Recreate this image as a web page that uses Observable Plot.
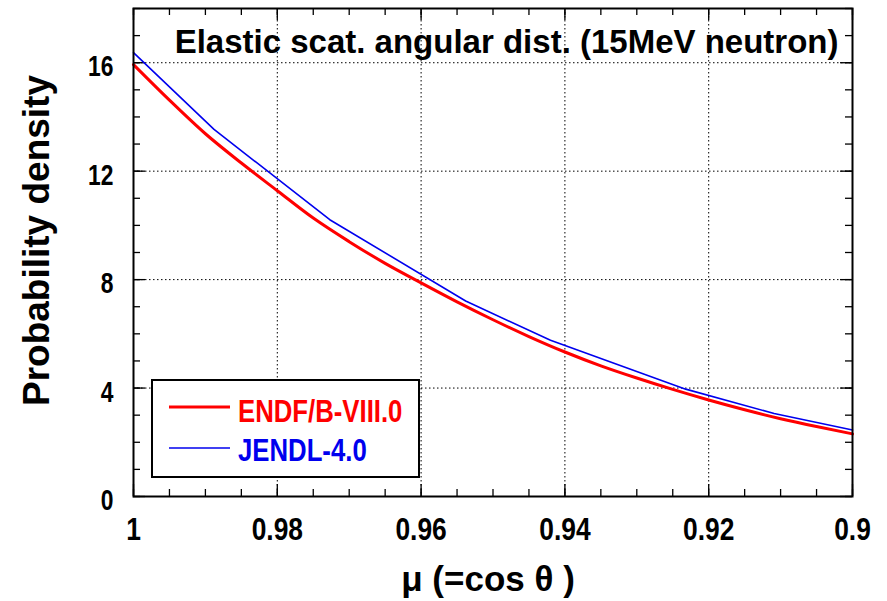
<!DOCTYPE html>
<html>
<head>
<meta charset="utf-8">
<script src="https://cdn.jsdelivr.net/npm/d3@7"></script>
<script src="https://cdn.jsdelivr.net/npm/@observablehq/plot@0.6"></script>
<style>
  html, body { margin: 0; padding: 0; background: #fff; }
  #wrap { position: relative; width: 887px; height: 601px; }
  #legend { position: absolute; left: 0; top: 0; }
</style>
</head>
<body>
<div id="wrap"></div>
<script>
// ---- data ----
const endfMu  = [1.0, 0.995, 0.99, 0.985, 0.98, 0.975, 0.97, 0.965, 0.96, 0.955, 0.95, 0.945, 0.94, 0.935, 0.93, 0.925, 0.92, 0.915, 0.91, 0.905, 0.90];
const endfVal = [15.93, 14.62, 13.38, 12.3, 11.28, 10.27, 9.4, 8.6, 7.88, 7.18, 6.52, 5.9, 5.33, 4.82, 4.37, 3.95, 3.56, 3.2, 2.87, 2.58, 2.31];
const jendlMu  = [1.0, 0.9888, 0.9727, 0.9538, 0.942, 0.9232, 0.9109, 0.90];
const jendlVal = [16.37, 13.54, 10.21, 7.21, 5.76, 3.96, 3.06, 2.45];

const xMajor = [1, 0.98, 0.96, 0.94, 0.92, 0.9];
const xTickLabels = ["1", "0.98", "0.96", "0.94", "0.92", "0.9"];
const yMajor = [0, 4, 8, 12, 16];
const yTickLabels = ["0", "4", "8", "12", "16"];
const seriesNames = ["ENDF/B-VIII.0", "JENDL-4.0"];
const seriesColors = ["#ff0000", "#0000ee"];
const titleText = "Elastic scat. angular dist. (15MeV neutron)";
const xLabel = "\u03bc (=cos \u03b8 )";
const yLabel = "Probability density";

// ---- layout ----
const W = 887, H = 601;
const mL = 133, mR = 35, mT = 8, mB = 105;
const pw = W - mL - mR, ph = H - mT - mB;
const xMinor = d3.range(0, 21).map(i => +(0.9 + i * 0.005).toFixed(3));
const yMinor = d3.range(0, 19);

const endf = endfMu.map((m, i) => ({mu: m, v: endfVal[i]}));
const jendl = jendlMu.map((m, i) => ({mu: m, v: jendlVal[i]}));

const font = "'Liberation Sans', Arial, Helvetica, sans-serif";

const chart = Plot.plot({
  width: W, height: H,
  marginLeft: mL, marginRight: mR, marginTop: mT, marginBottom: mB,
  style: {background: "white", color: "black", overflow: "visible"},
  x: {domain: [1, 0.9], axis: null},
  y: {domain: [0, 18], axis: null},
  marks: [
    Plot.gridX(xMajor, {stroke: "black", strokeOpacity: 1, strokeWidth: 1, strokeDasharray: "1.5,2.5"}),
    Plot.gridY(yMajor, {stroke: "black", strokeOpacity: 1, strokeWidth: 1, strokeDasharray: "1.5,2.5"}),
    // inward ticks: bottom/top
    Plot.ruleX(xMinor, {insetTop: ph - 7, stroke: "black", strokeWidth: 1.3}),
    Plot.ruleX(xMinor, {insetBottom: ph - 7, stroke: "black", strokeWidth: 1.3}),
    Plot.ruleX(xMajor, {insetTop: ph - 12, stroke: "black", strokeWidth: 1.3}),
    Plot.ruleX(xMajor, {insetBottom: ph - 12, stroke: "black", strokeWidth: 1.3}),
    // inward ticks: left/right
    Plot.ruleY(yMinor, {insetRight: pw - 7, stroke: "black", strokeWidth: 1.3}),
    Plot.ruleY(yMinor, {insetLeft: pw - 7, stroke: "black", strokeWidth: 1.3}),
    Plot.ruleY(yMajor, {insetRight: pw - 12, stroke: "black", strokeWidth: 1.3}),
    Plot.ruleY(yMajor, {insetLeft: pw - 12, stroke: "black", strokeWidth: 1.3}),
    Plot.line(jendl, {x: "mu", y: "v", stroke: seriesColors[1], strokeWidth: 1.6}),
    Plot.line(endf, {x: "mu", y: "v", stroke: seriesColors[0], strokeWidth: 3, curve: "monotone-x"}),
    Plot.frame({stroke: "black", strokeWidth: 2}),
    Plot.axisX(xMajor, {tickSize: 0, tickPadding: 21, fontSize: 31, fontWeight: "bold", fontFamily: font,
      tickFormat: d => xTickLabels[xMajor.indexOf(d)], label: null}),
    Plot.axisY(yMajor, {tickSize: 0, tickPadding: 20, fontSize: 30, fontWeight: "bold", fontFamily: font, dy: 4,
      tickFormat: d => yTickLabels[yMajor.indexOf(d)], label: null}),
    Plot.text([titleText], {frameAnchor: "top-right", textAnchor: "end", lineAnchor: "top", dx: -14, dy: 21,
      fontSize: 33, fontWeight: "bold", fontFamily: font, fill: "black"}),
    Plot.text([yLabel], {frameAnchor: "left", rotate: -90, textAnchor: "middle", lineAnchor: "middle", dx: -96, dy: -12,
      fontSize: 37, fontWeight: "bold", fontFamily: font, fill: "black"}),
    Plot.text([xLabel], {frameAnchor: "bottom", textAnchor: "middle", lineAnchor: "middle", dx: -5, dy: 83,
      fontSize: 35, fontWeight: "bold", fontFamily: font, fill: "black"})
  ]
});

const wrap = document.getElementById("wrap");
wrap.appendChild(chart);

// narrow (condensed) tick-label glyphs like the original
function condense(sel, f) {
  sel.each(function() {
    const n = this.getComputedTextLength();
    if (n > 0) {
      this.setAttribute("textLength", (n * f).toFixed(1));
      this.setAttribute("lengthAdjust", "spacingAndGlyphs");
    }
  });
}
condense(d3.select(chart).selectAll('g[aria-label="x-axis tick label"] text'), 0.85);
condense(d3.select(chart).selectAll('g[aria-label="y-axis tick label"] text'), 0.76);

// ---- legend overlay ----
const lg = d3.select(wrap).append("svg").attr("id", "legend")
  .attr("width", W).attr("height", H).style("pointer-events", "none");
lg.append("rect").attr("x", 152).attr("y", 380).attr("width", 267).attr("height", 97)
  .attr("fill", "white").attr("stroke", "black").attr("stroke-width", 2);
const rows = seriesNames.map((n, i) => ({name: n, color: seriesColors[i], i}));
const rowY = [407, 448];
const rowW = [3, 1.6];
const rowBase = [422, 461];
lg.selectAll("line.s").data(rows).join("line")
  .attr("x1", 169).attr("x2", 230)
  .attr("y1", d => rowY[d.i]).attr("y2", d => rowY[d.i])
  .attr("stroke", d => d.color).attr("stroke-width", d => rowW[d.i]);
const lt = lg.selectAll("text.s").data(rows).join("text")
  .attr("x", 238).attr("y", d => rowBase[d.i])
  .attr("fill", d => d.color)
  .style("font-family", font).style("font-weight", "bold").style("font-size", "31px")
  .text(d => d.name);
condense(lt, 0.83);
</script>
</body>
</html>
